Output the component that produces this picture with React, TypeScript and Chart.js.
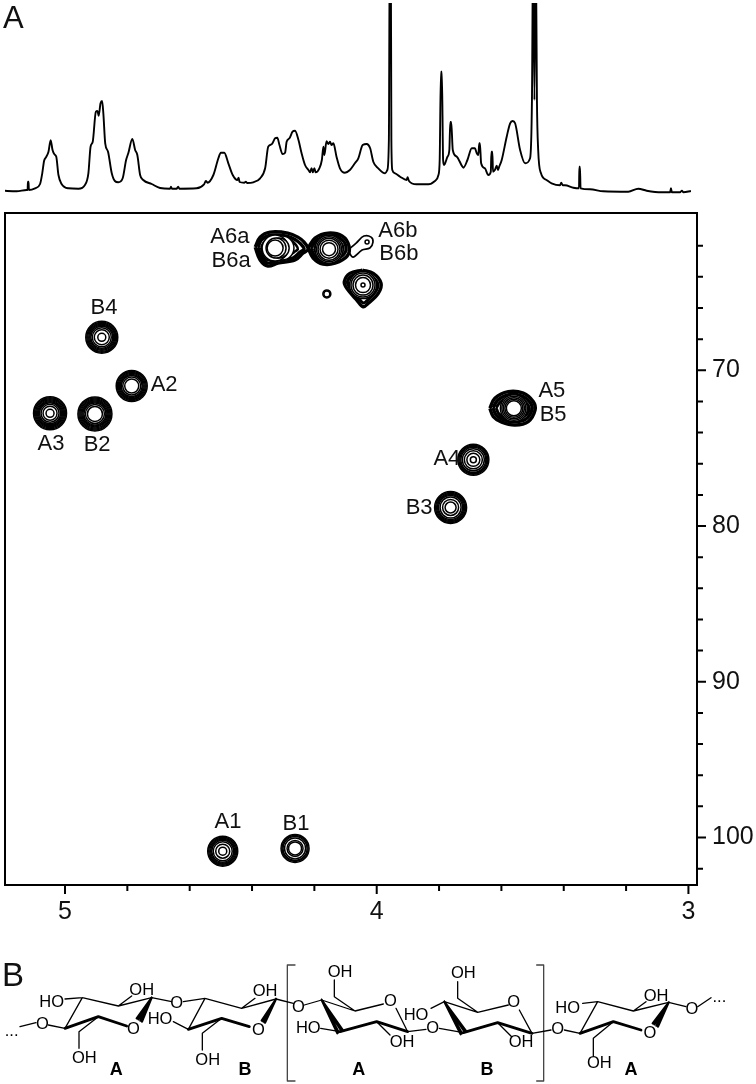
import React, { useEffect, useRef } from "react";
import { Chart, registerables } from "chart.js";

Chart.register(...registerables);

const FONT = '"Liberation Sans", Arial, sans-serif';

// --- 1D proton spectrum (ppm, relative intensity) ---
const specPpm = [
  5.2, 5.155, 5.123, 5.12, 5.119, 5.117, 5.116, 5.096, 5.08, 5.073, 5.067, 5.061, 5.053, 5.046, 5.04, 5.034, 5.028, 5.021, 5.011, 4.989,
  4.957, 4.936, 4.925, 4.918, 4.911, 4.901, 4.896, 4.892, 4.886, 4.881, 4.877, 4.871, 4.862, 4.85, 4.84, 4.829, 4.815, 4.804, 4.797, 4.784,
  4.775, 4.768, 4.759, 4.749, 4.722, 4.695, 4.663, 4.66, 4.657, 4.642, 4.637, 4.633, 4.578, 4.554, 4.548, 4.543, 4.524, 4.508, 4.5, 4.489,
  4.476, 4.462, 4.447, 4.443, 4.44, 4.425, 4.42, 4.416, 4.396, 4.374, 4.358, 4.348, 4.337, 4.326, 4.319, 4.312, 4.302, 4.294, 4.289, 4.28,
  4.27, 4.262, 4.251, 4.241, 4.23, 4.219, 4.214, 4.209, 4.205, 4.2, 4.196, 4.184, 4.176, 4.171, 4.168, 4.161, 4.155, 4.15, 4.145, 4.139,
  4.129, 4.118, 4.102, 4.086, 4.07, 4.059, 4.045, 4.032, 4.021, 4.011, 3.995, 3.973, 3.966, 3.961, 3.958, 3.955, 3.953, 3.95, 3.941, 3.925,
  3.904, 3.901, 3.897, 3.872, 3.834, 3.813, 3.802, 3.798, 3.794, 3.791, 3.787, 3.784, 3.773, 3.767, 3.764, 3.761, 3.756, 3.743, 3.727, 3.722,
  3.709, 3.695, 3.685, 3.679, 3.674, 3.671, 3.669, 3.665, 3.653, 3.642, 3.634, 3.632, 3.629, 3.627, 3.621, 3.615, 3.611, 3.607, 3.599, 3.583,
  3.572, 3.564, 3.556, 3.54, 3.524, 3.508, 3.502, 3.498, 3.494, 3.49, 3.486, 3.482, 3.473, 3.455, 3.439, 3.412, 3.408, 3.403, 3.396, 3.369,
  3.351, 3.35, 3.348, 3.346, 3.316, 3.273, 3.193, 3.161, 3.134, 3.086, 3.059, 3.056, 3.053, 3.027, 3.021, 3.016, 2.992,
];
const specIntensity = [
  1.3, 0.7, 2, 2, 10.3, 10.3, 2, 3.7, 8, 18.7, 31.3, 34.7, 40.3, 51.7, 42, 37.7, 35.3, 17, 8, 3.7,
  3.3, 7, 18.7, 45.3, 50.3, 80.3, 81, 76.3, 88.7, 91, 78.7, 48.7, 40.3, 18.7, 11, 9.7, 13.7, 32, 38.7, 53,
  42, 37, 17, 12, 8, 4, 3.3, 5.3, 3.3, 3.3, 5.3, 3.3, 3.7, 7.7, 11, 9.3, 17, 33.7, 39.3, 39.3,
  28.7, 17, 12, 14.3, 10, 9.3, 10.3, 9, 9.7, 13.7, 23.7, 45.3, 47.7, 53.7, 54.3, 47, 38, 39.3, 50.3, 53.7,
  60.3, 61.3, 52, 38.7, 27, 22, 19.7, 23.7, 19.7, 23.7, 19.7, 23.7, 32, 45.3, 37, 50.7, 48, 50.3, 47, 48.7,
  35.3, 23.7, 19.3, 22, 28.7, 33.7, 47, 48, 43.7, 30.3, 23.7, 18.7, 22, 52, 260, 260, 52, 22, 18.7, 15.3,
  12, 14.7, 11.3, 7.7, 7.7, 11, 17, 32, 120.3, 120.3, 32, 27, 35.3, 42, 70, 70, 42, 35.3, 26.3, 24.3,
  32, 43.7, 43.7, 38.7, 37, 48.7, 48.7, 28.7, 23.7, 17, 20.3, 40.3, 40.3, 20.3, 22, 26.3, 22, 25.3, 32, 55.3,
  68.7, 71, 68.7, 42, 28.7, 33.7, 92, 260, 92, 260, 92, 42, 18.7, 12, 8.7, 6.7, 9.3, 6.7, 6.7, 4.3,
  3.7, 25.3, 25.3, 3.7, 2.7, 0.7, 0.3, 3.3, 1.3, -0.3, -0.3, 3.7, -0.3, -0.3, 1.3, -0.3, 1,
];

// --- HSQC contours: round cross peaks (ppm H, ppm C, contour levels) ---
const peakH = [4.882, 4.786, 5.048, 4.904, 4.494, 4.262, 3.69, 3.763];
const peakC = [67.88, 71.01, 72.76, 72.8, 100.88, 100.7, 75.75, 78.81];
const peakLevels = [
  [16, 15, 14, 13, 12, 11, 9.5, 7.5, 4],
  [15.5, 14.5, 13.5, 12.5, 11.5, 10.5, 9, 7],
  [16.5, 15.5, 14.5, 13.5, 12.5, 11.5, 10.5, 9, 7, 4],
  [17, 16, 15, 14, 13, 12, 11, 9.5, 7.5],
  [15, 14, 13, 12, 11, 9.5, 7, 4],
  [14, 13, 12, 10.5, 8, 6.5],
  [15.5, 14.5, 13.5, 12.5, 11, 9, 6.5, 3],
  [16, 15, 14, 13, 12, 10.5, 8, 5.5],
];

// Inner contours of the asymmetric peaks, outermost first
const innerH = [
  3.56, 3.56, 3.56, 3.56, 3.56,
  4.304, 4.326, 4.313, 4.323, 4.326,
  4.031,
  4.153, 4.153, 4.153, 4.153, 4.153,
  4.044, 4.044, 4.044, 4.044, 4.044,
  4.16, 4.16,
];
const innerC = [
  72.44, 72.44, 72.44, 72.44, 72.44,
  62.15, 62.15, 62.15, 62.15, 62.15,
  61.76,
  62.22, 62.22, 62.22, 62.22, 62.22,
  64.53, 64.53, 64.53, 64.53, 64.53,
  65.1, 65.1,
];
const innerLevel = [
  13.5, 12, 10.5, 9, 7.5,
  12, 13, 10, 10, 8,
  2,
  14, 12.5, 11, 9, 6.5,
  13.5, 12, 10, 7.5, 2,
  4, 3,
];

// Traced outer contours of the asymmetric peaks
const loopsH = [
  [3.637, 3.621, 3.578, 3.53, 3.498, 3.492, 3.514, 3.556, 3.599, 3.626, 3.637],
  [3.627, 3.611, 3.576, 3.534, 3.507, 3.502, 3.523, 3.56, 3.595, 3.617, 3.627],
  [3.617, 3.603, 3.572, 3.537, 3.516, 3.511, 3.531, 3.563, 3.592, 3.609, 3.617],
  [4.39, 4.374, 4.342, 4.285, 4.253, 4.233, 4.22, 4.236, 4.262, 4.317, 4.349, 4.374, 4.39],
  [4.381, 4.368, 4.339, 4.288, 4.259, 4.243, 4.233, 4.246, 4.269, 4.317, 4.349, 4.368, 4.381],
  [4.371, 4.358, 4.336, 4.294, 4.272, 4.259, 4.253, 4.265, 4.288, 4.323, 4.349, 4.365, 4.371],
  [4.22, 4.198, 4.156, 4.111, 4.089, 4.095, 4.134, 4.172, 4.204, 4.22],
  [4.211, 4.192, 4.156, 4.118, 4.099, 4.105, 4.137, 4.169, 4.198, 4.211],
  [4.201, 4.185, 4.156, 4.124, 4.108, 4.115, 4.14, 4.169, 4.192, 4.201],
  [4.046, 4.011, 3.986, 3.995, 4.027, 4.043, 4.064, 4.096, 4.104, 4.086, 4.046],
  [4.046, 4.018, 3.996, 4.004, 4.031, 4.043, 4.06, 4.087, 4.094, 4.079, 4.046],
  [4.092, 4.066, 4.041, 4.018, 4.012, 4.022, 4.047, 4.076, 4.092],
];
const loopsC = [
  [72.44, 71.79, 71.37, 71.47, 72.01, 72.55, 73.29, 73.51, 73.33, 72.97, 72.44],
  [72.41, 71.9, 71.56, 71.65, 72.09, 72.55, 73.15, 73.31, 73.15, 72.87, 72.41],
  [72.41, 72.03, 71.74, 71.84, 72.19, 72.55, 73.0, 73.12, 73.0, 72.77, 72.41],
  [62.09, 61.45, 61.13, 61.19, 61.45, 61.77, 62.22, 62.47, 62.92, 63.12, 63.31, 62.92, 62.09],
  [62.09, 61.58, 61.32, 61.38, 61.64, 61.9, 62.22, 62.41, 62.79, 62.92, 63.12, 62.79, 62.09],
  [62.09, 61.7, 61.51, 61.51, 61.7, 61.96, 62.22, 62.41, 62.67, 62.79, 62.92, 62.67, 62.09],
  [62.15, 61.51, 61.19, 61.38, 62.02, 62.67, 63.12, 63.18, 62.79, 62.15],
  [62.15, 61.64, 61.38, 61.51, 62.02, 62.54, 62.92, 62.99, 62.67, 62.15],
  [62.15, 61.77, 61.58, 61.7, 62.09, 62.47, 62.73, 62.79, 62.54, 62.15],
  [63.57, 63.78, 64.42, 65.06, 65.7, 65.92, 65.49, 64.74, 64.31, 63.78, 63.57],
  [63.76, 63.95, 64.46, 64.97, 65.52, 65.68, 65.33, 64.69, 64.3, 63.92, 63.76],
  [62.28, 61.83, 61.38, 61.45, 61.77, 62.15, 62.28, 62.73, 62.28],
];

// --- Peak annotations ---
const labelText = ["A6a", "B6a", "A6b", "B6b", "B4", "A2", "A3", "B2", "A5", "B5", "A4", "B3", "A1", "B1"];
const labelH = [4.471, 4.467, 3.932, 3.929, 4.875, 4.682, 5.045, 4.897, 3.438, 3.434, 3.775, 3.864, 4.477, 4.259];
const labelC = [61.45, 62.99, 61.06, 62.54, 66.0, 70.94, 74.72, 74.79, 71.33, 72.87, 75.69, 78.83, 99.03, 99.16];

const xTickLabels = [5, 4, 3];
const yTickLabels = [70, 80, 90, 100];

// --- Repeat-unit structure (drawing units) ---
const thinBonds = [
  [195, 147, 247, 143, 355, 168, 455, 143, 515, 155], [195, 235, 247, 143], [355, 168, 395, 138], [195, 235, 145, 225], [60, 230, 108, 218],
  [295, 200, 237, 245, 237, 295],
  [550, 155, 615, 145, 725, 175, 828, 147, 880, 160], [565, 238, 615, 145], [520, 215, 565, 238], [665, 205, 607, 250, 607, 300], [725, 175, 765, 145],
  [913, 165, 965, 150, 1065, 183, 1150, 162], [1003, 90, 1003, 140, 1065, 183], [1188, 175, 1223, 245, 1278, 238], [962, 235, 1020, 245], [1130, 215, 1170, 255],
  [1318, 235, 1390, 248], [1293, 175, 1333, 155, 1433, 187, 1525, 165], [1433, 187, 1373, 145, 1373, 95], [1558, 180, 1596, 250, 1653, 240], [1493, 218, 1535, 260],
  [1693, 240, 1740, 250, 1793, 155, 1900, 183, 2006, 157, 2058, 170], [1748, 160, 1793, 155], [1900, 183, 1938, 155], [2093, 170, 2133, 143], [1840, 215, 1780, 265, 1780, 318],
];
const boldBonds = [
  [195, 235, 295, 200, 380, 228],
  [565, 238, 665, 205, 748, 230],
  [1020, 245, 1130, 215, 1223, 245],
  [1390, 248, 1493, 218, 1596, 250],
  [1740, 250, 1840, 215, 1923, 240],
];
const wedgeBonds = [
  [455, 143, 410, 205, 455, 143, 415, 208, 455, 143, 421, 212, 455, 143, 426, 215],
  [828, 147, 785, 212, 828, 147, 789, 214, 828, 147, 793, 217, 828, 147, 795, 218],
  [965, 150, 1012, 250, 965, 150, 1016, 247, 965, 150, 1024, 243, 965, 150, 1028, 240],
  [1333, 155, 1382, 253, 1333, 155, 1386, 250, 1333, 155, 1394, 246, 1333, 155, 1398, 243],
  [2006, 157, 1958, 220, 2006, 157, 1963, 223, 2006, 157, 1969, 227, 2006, 157, 1974, 230],
];
const bracketBonds = [
  [885, 45, 862, 45, 862, 393, 885, 393],
  [1610, 45, 1631, 45, 1631, 393, 1610, 393],
];
const atomText = ["HO", "OH", "O", "O", "O", "OH", "...", "HO", "O", "OH", "OH", "O", "OH", "HO", "O", "OH", "O", "HO", "OH", "O", "OH", "O", "HO", "OH", "O", "OH", "O", "..."];
const atomX = [155, 425, 530, 127, 400, 253, 35, 480, 775, 623, 795, 895, 1020, 925, 1171, 1206, 1298, 1248, 1390, 1541, 1563, 1673, 1703, 1968, 1950, 1798, 2076, 2158];
const atomY = [158, 122, 160, 222, 237, 325, 243, 207, 240, 332, 125, 173, 67, 235, 155, 277, 235, 197, 70, 157, 278, 238, 175, 138, 250, 340, 178, 143];
const unitText = ["A", "B", "A", "B", "A"];
const unitX = [349, 735, 1076, 1461, 1893];
const unitY = [360, 360, 360, 360, 360];

// --- helpers ---
function polyline(lists: number[][]) {
  const out: ({ x: number; y: number } | { x: null; y: null })[] = [];
  lists.forEach((l) => {
    for (let i = 0; i < l.length; i += 2) out.push({ x: l[i], y: l[i + 1] });
    out.push({ x: null, y: null });
  });
  return out;
}

const contourPoints = () => {
  const pts: { x: number; y: number; r: number }[] = [];
  innerH.forEach((h, i) => pts.push({ x: h, y: innerC[i], r: innerLevel[i] }));
  peakH.forEach((h, i) => peakLevels[i].forEach((r) => pts.push({ x: h, y: peakC[i], r })));
  return pts;
};

const frameAndTicks = {
  id: "frameAndTicks",
  afterDatasetsDraw(chart: any) {
    const { ctx, chartArea: a, scales } = chart;
    ctx.save();
    ctx.strokeStyle = "#000";
    ctx.lineWidth = 2;
    ctx.strokeRect(a.left, a.top, a.right - a.left, a.bottom - a.top);
    ctx.beginPath();
    scales.x.ticks.forEach((t: any) => {
      const p = scales.x.getPixelForValue(t.value);
      const major = xTickLabels.some((v) => Math.abs(v - t.value) < 1e-6);
      ctx.moveTo(p, a.bottom);
      ctx.lineTo(p, a.bottom + (major ? 9 : 6));
    });
    scales.y.ticks.forEach((t: any) => {
      const p = scales.y.getPixelForValue(t.value);
      const major = yTickLabels.some((v) => Math.abs(v - t.value) < 1e-6);
      ctx.moveTo(a.right, p);
      ctx.lineTo(a.right + (major ? 9 : 6), p);
    });
    ctx.stroke();
    ctx.restore();
  },
};

const peakLabels = {
  id: "peakLabels",
  afterDatasetsDraw(chart: any) {
    const { ctx, scales } = chart;
    ctx.save();
    ctx.font = `22px ${FONT}`;
    ctx.fillStyle = "#111";
    ctx.textAlign = "center";
    ctx.textBaseline = "middle";
    labelText.forEach((t, i) => {
      ctx.fillText(t, scales.x.getPixelForValue(labelH[i]), scales.y.getPixelForValue(labelC[i]));
    });
    ctx.restore();
  },
};

const atomLabels = {
  id: "atomLabels",
  afterDatasetsDraw(chart: any) {
    const { ctx, scales } = chart;
    ctx.save();
    ctx.fillStyle = "#000";
    ctx.textAlign = "center";
    ctx.textBaseline = "middle";
    ctx.font = `16.5px ${FONT}`;
    atomText.forEach((t, i) => {
      ctx.fillText(t, scales.x.getPixelForValue(atomX[i]), scales.y.getPixelForValue(atomY[i]));
    });
    ctx.font = `bold 18px ${FONT}`;
    unitText.forEach((t, i) => {
      ctx.fillText(t, scales.x.getPixelForValue(unitX[i]), scales.y.getPixelForValue(unitY[i]));
    });
    ctx.restore();
  },
};

const PPM_LEFT = 5.1925;
const PPM_RIGHT = 2.9725;

export default function App() {
  const specRef = useRef<HTMLCanvasElement>(null);
  const mainRef = useRef<HTMLCanvasElement>(null);
  const structRef = useRef<HTMLCanvasElement>(null);

  useEffect(() => {
    Chart.defaults.font.family = FONT;
    const hidden = { display: false };
    const noInteract = { legend: { display: false }, tooltip: { enabled: false }, title: { display: false } };

    const spec = new Chart(specRef.current!, {
      type: "line",
      data: {
        datasets: [
          {
            data: specPpm.map((x, i) => ({ x, y: specIntensity[i] })),
            borderColor: "#000",
            borderWidth: 1.9,
            pointRadius: 0,
            cubicInterpolationMode: "monotone",
            borderJoinStyle: "round",
          },
        ],
      },
      options: {
        animation: false,
        responsive: false,
        events: [],
        layout: { autoPadding: false, padding: { left: 5, right: 59, top: 3, bottom: 10 } },
        plugins: noInteract,
        scales: {
          x: { type: "linear", reverse: true, min: PPM_RIGHT, max: PPM_LEFT, ...hidden },
          y: { type: "linear", min: -3, max: 189, ...hidden },
        },
      },
    } as any);

    const loopWidths = [3.4, 3.4, 3, 3.4, 3.4, 2.6, 3.4, 3.2, 2.8, 3.4, 3, 1.7];
    const main = new Chart(mainRef.current!, {
      type: "bubble",
      data: {
        datasets: [
          {
            data: contourPoints(),
            borderColor: "#000",
            backgroundColor: "#fff",
            borderWidth: 1.5,
            clip: false,
          },
          ...loopsH.map((hs, k) => ({
            type: "line",
            data: hs.map((h, i) => ({ x: h, y: loopsC[k][i] })),
            borderColor: "#000",
            borderWidth: loopWidths[k],
            pointRadius: 0,
            tension: 0.35,
            clip: false,
          })),
        ],
      },
      options: {
        animation: false,
        responsive: false,
        events: [],
        layout: { autoPadding: false, padding: { left: 5, right: 0, top: 13, bottom: 0 } },
        plugins: noInteract,
        scales: {
          x: {
            type: "linear",
            reverse: true,
            min: PPM_RIGHT,
            max: PPM_LEFT,
            grid: { display: false, drawTicks: false },
            border: { display: false },
            afterFit: (s: any) => { s.height = 45; s.paddingLeft = 0; s.paddingRight = 0; },
            ticks: {
              stepSize: 0.2,
              includeBounds: false,
              autoSkip: false,
              maxRotation: 0,
              padding: 12,
              color: "#111",
              font: { size: 25, family: FONT },
              callback: (v: number) => (xTickLabels.some((t) => Math.abs(t - v) < 1e-6) ? String(Math.round(v)) : ""),
            },
          },
          y: {
            type: "linear",
            position: "right",
            reverse: true,
            min: 59.9,
            max: 103.05,
            grid: { display: false, drawTicks: false },
            border: { display: false },
            afterFit: (s: any) => { s.width = 59; s.paddingTop = 0; s.paddingBottom = 0; },
            afterBuildTicks: (s: any) => { s.ticks = s.ticks.filter((t: any) => t.value > 61); },
            ticks: {
              stepSize: 2,
              includeBounds: false,
              autoSkip: false,
              padding: 15,
              color: "#111",
              font: { size: 25, family: FONT },
              callback: (v: number) => (yTickLabels.includes(v) ? String(v) : ""),
            },
          },
        },
      },
      plugins: [frameAndTicks, peakLabels],
    } as any);

    const line = (lists: number[][], color: string, width: number) => ({
      data: polyline(lists),
      borderColor: color,
      borderWidth: width,
      pointRadius: 0,
      tension: 0,
      spanGaps: false,
      borderCapStyle: "round",
      borderJoinStyle: "round",
    });

    const struct = new Chart(structRef.current!, {
      type: "line",
      data: {
        datasets: [
          line(thinBonds, "#000", 1.3),
          line(boldBonds, "#000", 2.8),
          line(wedgeBonds, "#000", 2.2),
          line(bracketBonds, "#444", 1.3),
        ],
      },
      options: {
        animation: false,
        responsive: false,
        events: [],
        layout: { autoPadding: false, padding: 0 },
        plugins: noInteract,
        scales: {
          x: { type: "linear", min: 0, max: 2268, ...hidden },
          y: { type: "linear", reverse: true, min: 0, max: 402, ...hidden },
        },
      },
      plugins: [atomLabels],
    } as any);

    return () => {
      spec.destroy();
      main.destroy();
      struct.destroy();
    };
  }, []);

  const letter: React.CSSProperties = { position: "absolute", fontFamily: FONT, color: "#111", lineHeight: 1 };
  return (
    <div style={{ position: "absolute", left: 0, top: 0, width: 756, height: 1084, overflow: "hidden", background: "#fff" }}>
      <canvas ref={specRef} width={756} height={205} style={{ position: "absolute", left: 0, top: 0 }} />
      <canvas ref={mainRef} width={756} height={730} style={{ position: "absolute", left: 0, top: 200 }} />
      <canvas ref={structRef} width={756} height={134} style={{ position: "absolute", left: 0, top: 950 }} />
      <span style={{ ...letter, left: 3, top: 2, fontSize: 31 }}>A</span>
      <span style={{ ...letter, left: 2, top: 958, fontSize: 33 }}>B</span>
    </div>
  );
}
